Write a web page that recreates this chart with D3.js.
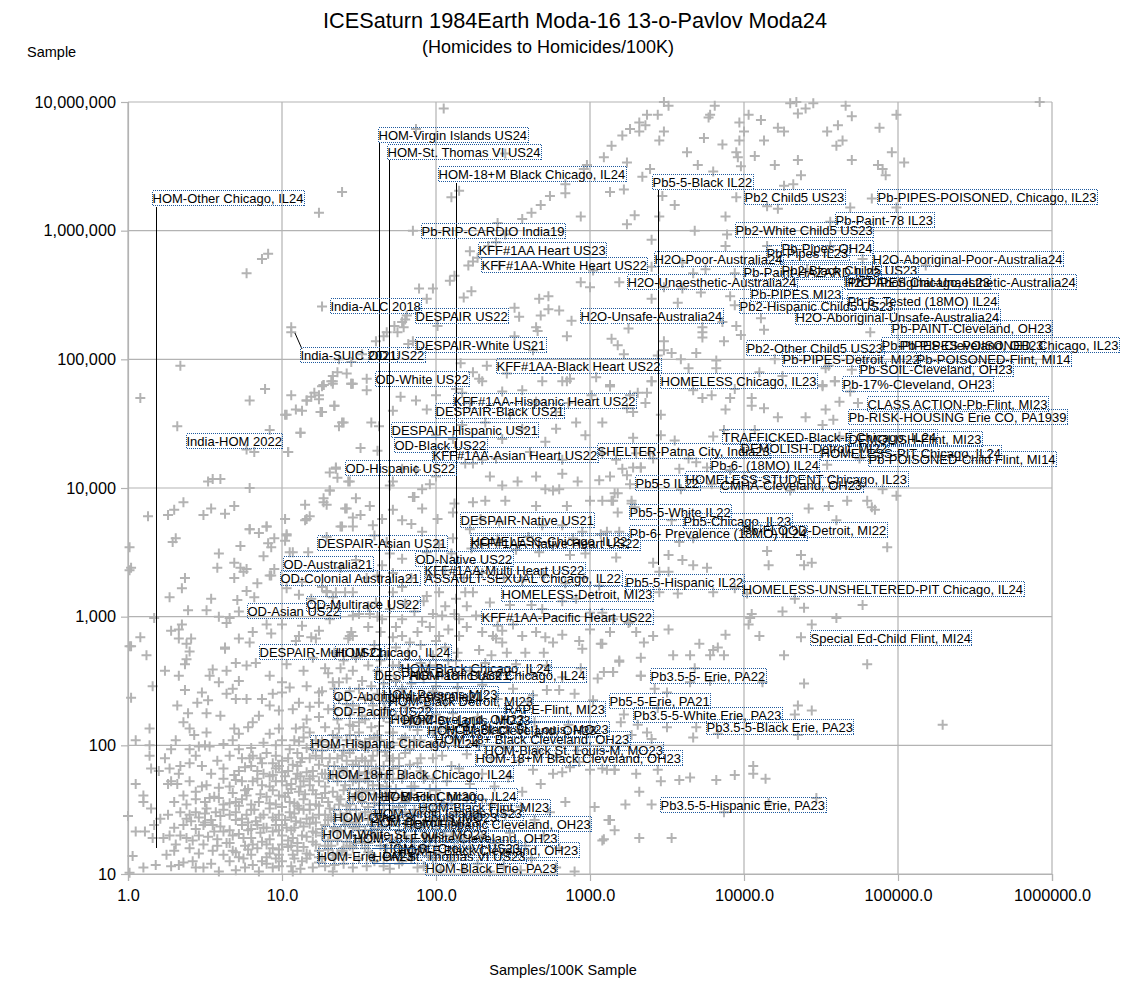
<!DOCTYPE html>
<html><head><meta charset="utf-8"><title>ICESaturn chart</title>
<script src="https://cdnjs.cloudflare.com/ajax/libs/d3/7.8.5/d3.min.js"></script>
<style>html,body{margin:0;padding:0;background:#fff}svg{display:block}text{font-family:"Liberation Sans",Arial,sans-serif;fill:#000}</style>
</head><body><svg id="c" width="1144" height="991"></svg>
<script>
const chartTitle="ICESaturn 1984Earth Moda-16 13-o-Pavlov Moda24";
const chartSubtitle="(Homicides to Homicides/100K)";
const yAxisTitle="Sample";
const xAxisTitle="Samples/100K Sample";
const xTicks=[1,10,100,1000,10000,100000,1000000];
const yTicks=[10,100,1000,10000,100000,1000000,10000000];
// All values below are powers of ten: [log10(Samples/100K), log10(Sample)]
const upperLeftValues=[[2.05,6.95],[1.39,6.30],[1.24,6.14],[.91,5.82],[.87,5.78],[.77,5.67],[1.26,5.41],[1.06,5.25],[1.06,5.21],[.34,4.95],[1.85,6.0],[2.10,6.26],[2.15,6.31],[1.87,6.79],[2.45,6.6],[2.84,6.36],[2.84,6.29],[2.74,6.27],[2.68,6.2],[2.62,6.14],[2.56,6.09],[2.94,6.11],[2.96,6.48],[2.98,6.51],[2.40,6.06],[2.45,5.97],[2.39,5.91],[2.34,5.88],[2.22,5.84],[2.27,5.79],[2.24,5.76],[2.21,5.73],[2.41,5.73],[3.02,5.69],[2.94,5.6],[3.0,5.56],[2.12,5.65],[2.09,5.61],[1.89,5.55],[1.98,5.55],[2.23,5.53],[2.18,5.48],[1.94,5.47],[2.67,5.47],[2.73,5.49],[2.73,5.39],[2.80,5.38],[2.68,5.34],[2.88,5.30],[2.54,5.33],[2.51,5.40],[2.65,5.25],[2.66,5.22],[2.85,5.18],[2.51,5.18],[2.63,5.07],[2.01,5.26],[1.80,5.31],[1.78,5.29],[1.81,5.34],[1.73,5.26],[1.79,5.25],[1.75,5.21],[1.68,5.21],[1.66,5.18],[1.61,5.14],[1.82,5.12],[1.85,5.14],[1.52,5.04],[1.45,4.98],[1.37,5.0],[2.16,4.97],[2.24,4.9],[2.33,4.95],[2.28,4.85],[2.46,4.89],[2.87,4.85],[2.85,4.83],[3.04,4.86],[1.36,4.90],[1.33,4.87],[1.42,4.89],[1.33,4.81],[1.27,4.80],[1.46,4.81],[1.55,4.85]];
const upperRightValues=[[3.48,7.0],[3.51,6.97],[3.81,6.97],[3.78,6.90],[3.77,6.88],[3.37,6.90],[3.44,6.90],[3.32,6.84],[3.26,6.79],[3.32,6.77],[3.36,6.82],[3.21,6.74],[3.14,6.66],[3.48,6.77],[3.45,6.70],[3.74,6.72],[3.86,6.67],[3.63,6.61],[3.95,6.61],[3.97,6.70],[4.0,6.77],[3.97,6.84],[4.03,6.90],[4.11,6.86],[4.22,6.80],[4.26,6.77],[4.13,6.70],[4.07,6.58],[3.96,6.57],[3.98,6.50],[3.70,6.51],[4.20,6.51],[4.35,6.55],[4.30,6.99],[4.34,7.0],[4.40,6.95],[4.45,6.99],[4.35,6.91],[4.66,6.97],[4.70,6.89],[4.61,6.82],[4.54,6.77],[4.88,6.80],[4.99,6.90],[4.64,6.70],[4.60,6.66],[4.96,6.61],[4.70,6.55],[4.87,6.51],[4.90,6.48],[4.92,6.43],[5.04,6.53],[5.92,7.0],[3.09,6.57],[3.24,6.53],[3.39,6.48],[3.34,6.42],[3.80,6.46],[4.37,6.43],[4.32,6.36],[4.26,6.35],[3.22,6.32],[3.13,6.30],[3.47,6.27],[3.55,6.20],[3.95,6.26],[4.15,6.19],[4.22,6.17],[4.69,6.18],[4.83,6.25],[4.99,6.18],[3.29,6.12],[3.24,6.05],[3.45,6.11],[3.88,6.11],[3.68,6.0],[3.89,5.97],[3.40,5.93],[3.88,5.88],[4.56,6.07],[3.19,5.6],[3.40,5.72],[3.75,5.70],[3.67,5.67],[3.94,5.67],[3.48,5.56],[3.60,5.55],[3.72,5.52],[3.40,5.47],[3.57,5.44],[3.91,5.49],[3.94,5.42],[4.11,5.32],[4.13,5.23],[3.73,5.25],[3.73,5.21],[3.73,5.17],[3.86,5.29],[3.95,5.26],[3.98,5.19],[3.87,5.14],[3.48,5.14],[3.25,5.24],[3.14,5.16],[3.18,5.11],[3.22,5.04],[3.48,5.07],[3.53,5.05],[3.59,5.0],[3.69,5.05],[3.44,5.03],[4.20,5.0],[3.82,4.99],[3.82,4.93],[3.64,4.93],[3.40,4.83],[3.13,4.80],[4.10,4.90],[4.25,4.87],[4.55,4.95],[4.70,4.92],[4.82,5.21],[4.77,5.62],[4.77,5.78],[5.18,5.73],[4.41,5.70],[4.15,5.88],[4.56,5.88],[4.53,4.93],[4.59,4.83],[4.51,4.80],[3.60,5.75]];
const midRightValues=[[3.13,4.79],[3.40,4.83],[3.31,4.74],[3.37,4.74],[3.36,4.66],[3.24,4.62],[3.28,4.59],[3.73,4.70],[3.79,4.72],[3.91,4.70],[3.94,4.77],[3.67,4.76],[4.05,4.70],[4.13,4.62],[4.05,4.64],[3.88,4.61],[4.22,4.55],[4.40,4.55],[4.53,4.61],[4.58,4.53],[4.62,4.67],[4.74,4.66],[4.69,4.75],[4.51,4.79],[4.59,4.83],[3.46,4.57],[3.46,4.41],[3.28,4.39],[3.55,4.37],[3.80,4.40],[3.87,4.45],[4.07,4.45],[4.51,4.49],[4.62,4.40],[3.39,4.27],[3.41,4.23],[3.17,4.22],[3.28,4.16],[3.33,4.16],[3.64,4.23],[3.69,4.20],[3.76,4.16],[3.58,4.15],[3.91,4.14],[4.54,4.18],[4.75,4.23],[3.24,4.10],[3.26,4.03],[3.59,3.99],[3.79,4.03],[4.30,3.98],[4.90,3.99],[4.99,3.94],[3.16,3.96],[3.18,3.96],[3.15,3.90],[3.27,3.90],[3.29,3.85],[3.18,3.81],[4.42,3.84],[4.55,3.86],[4.67,3.90],[4.80,3.90],[4.83,3.85],[4.85,3.83],[3.53,3.75],[4.15,3.51],[4.37,3.48],[4.93,3.54],[4.16,3.40],[4.39,3.40],[4.44,3.42],[4.60,3.75],[3.58,3.58],[3.67,3.61],[3.19,3.66],[3.11,3.66],[3.51,3.48],[3.60,3.44],[3.41,3.42],[3.67,3.40],[3.76,3.38],[3.45,3.35],[3.51,3.35],[3.45,3.19],[3.57,3.18],[3.80,3.19],[4.02,3.18],[4.33,3.14],[3.94,3.22],[4.25,3.04],[4.39,3.07],[4.77,3.09],[4.05,3.02],[4.04,2.99],[4.03,2.94],[4.60,2.99],[4.44,2.94],[3.25,2.95],[3.41,2.85],[3.51,2.90],[3.88,2.86],[4.10,2.85],[4.37,2.84],[3.71,2.79],[3.83,2.76],[3.80,2.74],[3.78,2.70],[3.54,2.70],[3.65,2.70],[3.87,2.70],[4.26,2.70],[4.80,2.63],[3.33,2.68],[3.19,2.65],[3.07,2.79],[3.09,2.57],[3.33,2.54],[3.68,2.60]];
const lowerRightValues=[[3.19,2.66],[3.15,2.57],[3.33,2.54],[3.65,2.49],[3.78,2.50],[4.39,2.48],[4.12,2.49],[3.42,2.44],[3.50,2.41],[4.35,2.31],[4.44,2.27],[4.33,2.24],[3.22,2.24],[3.44,2.29],[3.20,2.18],[3.31,2.16],[3.50,2.14],[3.37,2.10],[3.27,2.08],[3.40,2.05],[3.69,2.14],[3.67,2.06],[3.83,2.09],[4.35,2.08],[5.29,2.16],[4.06,1.84],[4.06,1.78],[3.94,1.77],[4.14,1.74],[3.82,1.73],[3.65,1.75],[3.58,1.73],[3.46,1.72],[3.44,1.81],[3.30,1.78],[3.16,1.81],[3.08,1.82],[3.32,1.64],[3.23,1.54],[3.40,1.54],[3.03,1.52],[3.12,1.42],[3.08,1.26],[3.32,1.28],[3.53,1.28],[3.87,1.48],[4.47,1.59],[4.16,1.55],[3.15,2.57],[3.08,2.79],[2.95,2.75],[2.72,2.43],[2.80,2.43],[2.63,2.39],[3.13,1.42],[3.09,1.27],[3.16,1.34],[2.84,1.56],[2.68,1.70],[2.76,1.78],[2.82,1.79],[2.93,1.87],[2.87,1.83],[2.63,1.81],[3.0,1.81],[3.11,1.81],[3.16,1.81]];
const midLeftValues=[[.08,4.70],[.32,4.48],[.79,4.68],[.89,4.77],[1.06,4.72],[1.03,4.57],[1.09,4.61],[1.13,4.60],[1.16,4.68],[1.19,4.71],[1.24,4.72],[1.26,4.79],[1.32,4.83],[1.24,4.69],[1.34,4.64],[1.25,4.59],[1.45,4.81],[1.12,4.43],[1.37,4.48],[1.40,4.51],[.92,4.45],[.77,4.30],[.82,4.28],[1.04,4.28],[1.35,4.16],[1.31,4.12],[1.36,4.08],[1.44,4.05],[.52,4.05],[.55,4.07],[.60,4.07],[.79,4.0],[1.31,3.98],[1.27,3.92],[1.29,3.87],[1.15,3.87],[1.41,3.84],[1.48,3.92],[.36,3.89],[.30,3.83],[.26,3.79],[.13,3.78],[.54,3.84],[.49,3.79],[.63,3.80],[.69,3.86],[1.18,3.78],[1.15,3.75],[1.46,3.77],[1.39,3.70],[1.02,3.76],[.79,3.68],[.90,3.70],[.85,3.65],[.95,3.61],[1.03,3.64],[1.02,3.59],[.91,3.57],[.93,3.54],[.73,3.55],[.31,3.61],[.29,3.58],[.01,3.54],[.88,3.47],[.59,3.49],[1.07,3.50],[1.17,3.50],[.69,3.42],[.58,3.38],[.77,3.37],[.73,3.38],[.75,3.35],[.95,3.37],[.93,3.32],[.02,3.38],[.01,3.36],[.37,3.30],[.69,3.30],[.35,3.22],[.84,3.26],[.77,3.20],[1.03,3.22],[1.11,3.17],[.27,3.15],[.54,3.14],[.71,3.13],[.82,3.15],[1.29,3.20],[.39,3.05],[.51,3.05],[.72,3.04],[.17,2.99],[.59,3.0],[.66,2.99],[.64,2.95],[.35,2.94],[.33,2.90],[.28,2.89],[.90,2.94],[1.0,2.94],[.81,2.88],[.93,2.87],[.41,2.83],[.33,2.83],[.08,2.84],[.38,2.79],[.72,2.83],[.79,2.80],[.02,2.77],[1.09,2.81],[1.19,2.84],[1.13,2.93],[1.24,2.89],[1.33,3.15],[1.41,3.19],[1.44,2.85],[.63,2.76]];
const midCentreValues=[[1.02,4.57],[1.16,4.68],[1.21,4.74],[1.27,4.80],[1.33,4.83],[1.45,4.81],[1.55,4.76],[1.34,4.64],[1.26,4.59],[1.39,4.51],[1.58,4.51],[1.77,4.71],[1.87,4.68],[1.94,4.61],[1.72,4.60],[1.63,4.48],[1.12,4.43],[1.04,4.28],[1.51,4.31],[1.62,4.29],[1.35,4.15],[1.43,4.05],[1.70,4.02],[1.31,3.98],[1.96,4.03],[1.91,3.99],[1.85,3.93],[2.0,4.09],[2.19,4.19],[2.24,4.19],[2.35,4.09],[2.43,4.02],[2.53,4.05],[2.65,4.09],[2.71,3.99],[2.76,3.98],[2.80,3.99],[2.92,4.05],[3.06,4.06],[3.13,4.09],[3.21,4.15],[3.33,4.16],[3.0,3.90],[3.08,3.90],[3.14,3.90],[3.27,3.88],[2.45,3.90],[2.65,3.86],[2.85,3.86],[2.32,3.90],[2.24,3.89],[2.12,3.88],[1.86,3.93],[1.91,3.84],[2.01,3.76],[1.78,3.75],[1.72,3.83],[1.57,3.86],[1.42,3.84],[1.27,3.89],[1.16,3.76],[1.51,3.79],[1.65,3.76],[1.59,3.71],[1.46,3.70],[1.38,3.70],[1.29,3.62],[1.84,3.72],[1.91,3.66],[1.60,3.63],[1.70,3.49],[1.78,3.45],[1.68,3.58],[1.65,3.40],[2.11,3.61],[2.69,3.71],[2.82,3.71],[2.95,3.66],[3.07,3.64],[2.89,3.61],[2.22,3.68],[2.11,3.81],[2.29,3.76],[2.41,3.74],[2.23,3.53],[2.10,3.49],[2.67,3.50],[2.87,3.48],[2.97,3.49],[3.17,3.46],[1.48,3.44],[1.38,3.38],[.92,3.32],[1.05,3.50],[.79,3.68],[.90,3.70],[1.03,3.63],[1.35,3.19],[1.46,3.19],[1.26,3.23],[1.13,3.27],[1.19,3.14],[1.29,3.19],[1.61,3.11],[1.72,3.19],[1.78,3.23],[1.94,3.16],[2.02,3.19],[2.13,3.14],[2.19,3.19],[2.24,3.19],[2.35,3.11],[2.48,3.09],[2.62,3.09],[2.69,3.06],[2.82,3.12],[2.91,3.14],[3.0,3.03],[3.08,3.03],[3.26,2.96],[3.15,2.98],[3.30,2.88],[3.35,2.80],[1.31,2.98],[1.46,3.01],[1.57,3.02],[1.65,2.98],[1.78,2.98],[1.91,2.96],[2.04,3.01],[2.15,2.98],[2.26,3.01],[2.43,2.89],[2.56,2.85],[2.65,2.88],[2.82,2.86],[3.0,2.90],[3.13,2.88],[2.37,2.85],[2.39,2.83],[2.40,2.93],[2.15,2.85],[2.02,2.85],[1.78,2.85],[1.46,2.85],[1.43,2.83],[1.45,2.88],[1.22,2.83],[1.11,2.85],[1.83,2.80],[2.0,2.81],[2.43,2.80],[2.76,2.80],[2.93,2.81],[2.71,2.84],[2.82,4.83],[3.01,4.72],[3.13,4.79],[3.26,4.72],[2.86,4.66],[2.65,4.67],[2.78,4.59],[2.48,4.57],[2.32,4.51],[2.56,4.46],[2.78,4.46],[2.91,4.51],[3.08,4.51],[2.43,4.38],[2.71,4.36],[2.97,4.41],[2.0,4.41],[2.11,4.38],[2.17,4.49],[2.17,4.74],[2.22,4.66],[2.0,4.72],[2.13,4.77],[2.43,4.75],[2.56,4.76],[2.30,4.83],[2.69,4.83],[2.61,4.28],[2.39,4.23],[2.30,4.22],[2.82,4.22],[3.08,4.27],[3.30,4.27],[2.82,4.11],[1.87,4.14],[1.78,4.15],[1.72,4.05],[1.5,3.02],[1.56,3.08],[1.62,3.0],[1.7,3.06],[1.74,2.92],[1.8,3.1],[1.86,3.04],[1.92,3.12],[1.98,3.02],[2.06,3.08],[2.12,3.02],[2.2,3.08],[1.52,2.72],[1.6,2.78],[1.68,2.7],[1.74,2.76],[1.82,2.72],[1.9,2.78],[1.98,2.7],[2.06,2.76],[2.14,2.72],[2.28,2.74],[2.36,2.7],[2.46,2.72],[2.58,2.72],[2.7,2.72],[1.56,2.92],[1.64,2.88],[1.72,2.84],[1.88,2.88],[1.96,2.92],[2.08,2.9],[2.2,2.92],[2.3,2.88],[2.5,2.94],[1.4,2.66],[1.34,2.72],[1.46,2.58],[1.28,2.6],[1.2,2.68],[1.14,2.58],[1.55,3.3],[1.62,3.32],[1.72,3.34],[1.84,3.3],[1.96,3.32],[2.06,3.36],[2.18,3.3],[2.3,3.34],[2.44,3.3],[2.56,3.28],[2.7,3.32],[2.84,3.26],[2.96,3.3],[3.06,3.24],[1.94,3.5],[2.02,3.56],[2.3,3.56],[2.4,3.6],[2.52,3.52],[2.6,3.62],[2.76,3.55]];
const lowerLeftValues=[[.01,2.77],[.12,2.70],[.24,2.58],[.16,2.46],[.02,2.37],[.14,2.13],[.05,2.04],[.14,2.0],[.14,1.92],[.15,1.82],[.05,1.70],[.10,1.61],[.10,1.56],[0,1.45],[.05,1.33],[.11,1.33],[.15,1.51],[.17,1.38],[.40,2.73],[.38,2.67],[.37,2.63],[.63,2.75],[.55,2.59],[.53,2.54],[.64,2.58],[.70,2.64],[.77,2.62],[.83,2.64],[.92,2.54],[1.03,2.63],[1.0,2.49],[.72,2.50],[.68,2.44],[.64,2.40],[.59,2.49],[.48,2.41],[.52,2.35],[.45,2.33],[.37,2.43],[.33,2.54],[.32,2.31],[.39,2.25],[.51,2.25],[.60,2.23],[.70,2.36],[.77,2.36],[.87,2.36],[.94,2.40],[1.0,2.41],[1.05,2.45],[1.16,2.46],[1.24,2.41],[1.33,2.49],[1.07,2.28],[1.11,2.33],[1.24,2.33],[.98,2.27],[.92,2.31],[.85,2.23],[.81,2.18],[.69,2.13],[.72,2.09],[.78,2.14],[.92,2.09],[.98,2.13],[1.09,2.13],[1.18,2.10],[1.11,2.03],[1.05,1.97],[.96,1.92],[.87,1.86],[.81,1.92],[.76,1.83],[.69,1.77],[.70,1.73],[.59,1.67],[.51,1.69],[.53,1.59],[.44,1.64],[.40,1.86],[.48,1.84],[.33,1.78],[.27,1.82],[.28,1.72],[.32,1.70],[.36,1.61],[.40,1.97],[.46,1.99],[.53,1.99],[.62,2.01],[.28,1.97],[.43,2.08],[.31,2.04],[.40,2.13],[.51,2.10],[.36,2.18],[.72,1.97],[.79,1.90]];
const denseBandValues=[[.40,1.46],[.44,1.48],[.41,1.41],[.38,1.43],[.49,1.38],[.46,1.30],[.51,1.51],[.57,1.48],[.59,1.59],[.62,1.54],[.66,1.46],[.70,1.56],[.77,1.61],[.81,1.72],[.87,1.69],[.94,1.77],[1.0,1.79],[1.07,1.85],[1.13,1.90],[1.20,1.97],[1.26,2.03],[1.33,2.08],[1.37,2.13],[1.46,2.15],[1.50,2.18],[.96,1.72],[1.03,1.69],[1.09,1.74],[1.16,1.79],[1.24,1.85],[1.31,1.90],[1.39,1.92],[1.46,1.97],[1.52,2.0],[1.57,2.05],[.98,1.61],[1.05,1.56],[1.11,1.64],[1.18,1.69],[1.24,1.72],[1.33,1.77],[1.39,1.82],[1.46,1.85],[1.52,1.90],[1.59,1.92],[.85,1.56],[.92,1.51],[.98,1.46],[1.05,1.48],[1.11,1.51],[1.18,1.54],[1.26,1.59],[1.33,1.64],[1.41,1.69],[1.48,1.74],[1.54,1.79],[1.61,1.82],[.77,1.46],[.83,1.41],[.90,1.36],[.96,1.38],[1.03,1.36],[1.09,1.41],[1.16,1.43],[1.24,1.46],[1.31,1.51],[1.37,1.54],[1.46,1.59],[1.52,1.64],[1.59,1.69],[1.67,1.74],[.55,1.38],[.62,1.33],[.68,1.30],[.75,1.28],[.81,1.23],[.87,1.25],[.94,1.20],[1.0,1.23],[1.07,1.28],[1.13,1.30],[1.20,1.25],[1.26,1.30],[1.33,1.33],[1.41,1.38],[1.48,1.43],[1.54,1.48],[1.63,1.54],[1.72,1.59],[.49,1.23],[.55,1.18],[.62,1.15],[.68,1.18],[.75,1.12],[.81,1.07],[.87,1.10],[.94,1.05],[1.0,1.10],[1.07,1.15],[1.13,1.10],[1.20,1.05],[1.26,1.12],[1.33,1.15],[1.39,1.18],[1.46,1.20],[1.52,1.25],[1.59,1.30],[1.65,1.36],[1.74,1.41],[1.80,1.48],[.38,1.28],[.31,1.23],[.27,1.30],[.21,1.43],[.23,1.28],[.25,1.15],[.03,1.14],[.10,1.05],[.18,1.07],[.33,1.07],[.42,1.10],[.49,1.05],[.59,1.02],[.70,1.03],[.85,1.02],[1.07,1.02],[1.33,1.02],[.01,1.01],[1.24,1.18],[1.67,1.61],[1.78,1.61],[1.63,1.69],[1.72,1.82],[1.78,1.74],[1.83,1.85],[1.67,1.95],[1.78,2.05],[1.83,1.97],[1.83,2.15],[1.72,2.10],[1.74,2.23],[1.63,2.15],[1.67,2.28],[1.59,2.31],[1.52,2.23],[1.37,2.36],[1.46,2.31],[1.37,2.49],[1.28,1.22],[1.36,1.26],[1.44,1.30],[1.50,1.34],[1.58,1.38],[1.66,1.44],[1.72,1.50],[1.30,1.42],[1.38,1.46],[1.44,1.50],[1.52,1.56],[1.60,1.62],[1.68,1.68],[1.36,1.60],[1.44,1.66],[1.50,1.72],[1.58,1.78],[1.66,1.84],[1.72,1.90],[1.30,1.74],[1.40,1.80],[1.48,1.88],[1.56,1.98],[1.64,2.04],[1.72,2.02],[1.26,1.90],[1.34,1.98],[1.42,2.04],[1.50,2.10],[1.58,2.14],[1.66,2.22],[1.44,2.24],[1.54,2.36],[1.62,2.40],[1.70,2.34],[1.78,2.44],[1.80,2.30],[1.44,2.42],[1.52,2.50],[1.62,2.58],[1.70,2.54],[1.76,2.62],[1.24,2.22],[1.30,2.28],[1.16,2.20],[1.12,1.76],[1.06,1.70],[.98,1.84],[1.15,1.62],[1.22,1.54],[1.28,1.06],[1.40,1.08],[1.55,1.06],[1.70,1.04],[1.78,1.10],[1.16,1.12],[1.06,1.06],[.96,1.12]];
const blobValues=[[.28,1.06],[.36,1.09],[.44,1.05],[.54,1.08],[.66,1.10],[.76,1.05],[.9,1.08],[.98,1.06],[1.12,1.04],[1.24,1.09],[1.34,1.07],[1.46,1.05],[1.6,1.10],[1.66,1.06],[1.76,1.08],[1.84,1.12],[1.92,1.06],[.30,1.18],[.40,1.20],[.46,1.16],[.58,1.22],[.70,1.17],[.78,1.19],[.92,1.16],[1.04,1.21],[1.10,1.18],[1.18,1.15],[1.3,1.19],[1.36,1.16],[1.44,1.22],[1.56,1.17],[1.68,1.20],[1.78,1.16],[1.9,1.19],[2.02,1.16],[2.12,1.20],[.16,1.28],[.34,1.30],[.42,1.26],[.52,1.29],[.58,1.27],[.64,1.24],[.72,1.31],[.8,1.28],[.86,1.32],[.92,1.27],[1.0,1.30],[1.04,1.26],[1.1,1.24],[1.16,1.29],[1.22,1.32],[1.3,1.26],[1.36,1.33],[1.42,1.25],[1.5,1.28],[1.56,1.24],[1.62,1.30],[1.7,1.27],[1.8,1.30],[1.96,1.26],[2.1,1.30],[2.18,1.26],[.30,1.36],[.36,1.38],[.44,1.35],[.5,1.40],[.56,1.33],[.6,1.37],[.66,1.34],[.74,1.38],[.8,1.35],[.84,1.38],[.94,1.33],[1.0,1.38],[1.06,1.34],[1.14,1.37],[1.2,1.33],[1.28,1.38],[1.34,1.36],[1.44,1.40],[1.5,1.37],[1.6,1.35],[1.7,1.38],[1.84,1.36],[2.0,1.35],[2.16,1.38],[.26,1.46],[.34,1.48],[.46,1.44],[.5,1.47],[.54,1.42],[.6,1.45],[.7,1.48],[.74,1.43],[.8,1.50],[.88,1.46],[.94,1.44],[1.02,1.42],[1.08,1.47],[1.14,1.50],[1.2,1.44],[1.28,1.46],[1.34,1.42],[1.42,1.47],[1.5,1.44],[1.58,1.46],[1.66,1.50],[1.76,1.44],[1.9,1.47],[2.08,1.43],[2.24,1.47],[.3,1.56],[.38,1.54],[.44,1.58],[.5,1.56],[.56,1.60],[.66,1.55],[.74,1.58],[.8,1.54],[.9,1.60],[.96,1.54],[1.02,1.60],[1.08,1.55],[1.14,1.58],[1.22,1.62],[1.3,1.56],[1.38,1.58],[1.44,1.54],[1.5,1.60],[1.6,1.55],[1.7,1.62],[1.8,1.56],[1.95,1.60],[2.1,1.54],[2.3,1.58],[.26,1.70],[.4,1.72],[.48,1.68],[.62,1.74],[.66,1.68],[.74,1.72],[.78,1.66],[.84,1.74],[.92,1.68],[1.0,1.72],[1.06,1.66],[1.14,1.72],[1.2,1.76],[1.28,1.68],[1.36,1.72],[1.44,1.76],[1.5,1.66],[1.56,1.72],[1.64,1.66],[1.72,1.74],[1.84,1.68],[1.98,1.74],[.2,1.80],[.34,1.84],[.54,1.78],[.62,1.82],[.72,1.80],[.8,1.84],[.88,1.78],[.96,1.82],[1.04,1.80],[1.1,1.84],[1.2,1.80],[1.26,1.78],[1.34,1.84],[1.42,1.80],[1.5,1.78],[1.56,1.84],[1.64,1.78],[1.76,1.84],[1.9,1.80],[2.1,1.84],[.24,1.90],[.44,1.92],[.58,1.88],[.66,1.92],[.74,1.90],[.9,1.94],[1.0,1.88],[1.1,1.94],[1.18,1.90],[1.26,1.96],[1.36,1.90],[1.44,1.94],[1.54,1.88],[1.62,1.96],[1.7,1.88],[1.8,1.94],[.5,2.0],[.68,2.04],[.8,1.98],[.88,2.02],[.96,2.0],[1.08,2.04],[1.16,1.98],[1.22,2.04],[1.3,2.0],[1.4,1.96],[1.48,2.04],[1.54,1.98],[1.6,2.06],[1.7,1.98],[1.86,2.04]];
const blobFillValues=[[.72,1.13],[.8,1.15],[.9,1.13],[.98,1.15],[1.08,1.12],[1.16,1.16],[1.24,1.13],[1.34,1.12],[1.42,1.15],[1.5,1.12],[1.58,1.15],[1.68,1.13],[1.8,1.2],[1.86,1.16],[1.98,1.12],[.66,1.24],[.76,1.22],[.84,1.2],[.9,1.23],[.98,1.19],[1.06,1.22],[1.14,1.21],[1.22,1.23],[1.32,1.22],[1.4,1.2],[1.48,1.24],[1.54,1.2],[1.64,1.22],[1.74,1.24],[1.84,1.27],[1.92,1.22],[.78,1.34],[.88,1.36],[.98,1.34],[1.08,1.36],[1.18,1.39],[1.26,1.35],[1.38,1.34],[1.46,1.36],[1.54,1.34],[1.64,1.4],[1.76,1.34],[1.9,1.36],[2.1,1.38],[.7,1.42],[.78,1.40],[.86,1.44],[.96,1.42],[1.06,1.44],[1.12,1.40],[1.22,1.40],[1.32,1.44],[1.4,1.42],[1.48,1.40],[1.56,1.42],[1.62,1.46],[1.72,1.44],[1.82,1.42],[1.98,1.48],[.62,1.50],[.72,1.53],[.82,1.5],[.92,1.55],[1.0,1.52],[1.1,1.53],[1.18,1.5],[1.24,1.53],[1.34,1.5],[1.42,1.53],[1.48,1.5],[1.56,1.52],[1.66,1.54],[1.76,1.52],[1.86,1.5],[2.0,1.53],[.68,1.63],[.76,1.65],[.86,1.62],[.94,1.65],[1.04,1.63],[1.12,1.68],[1.2,1.65],[1.28,1.63],[1.4,1.65],[1.48,1.62],[1.56,1.65],[1.64,1.6],[1.74,1.66],[1.84,1.62],[1.96,1.66],[.84,1.8],[.92,1.76],[1.02,1.76],[1.1,1.78],[1.18,1.74],[1.28,1.78],[1.36,1.76],[1.46,1.72],[1.54,1.74],[1.62,1.76],[1.7,1.78],[1.8,1.78],[1.92,1.74],[.86,1.9],[.94,1.86],[1.04,1.9],[1.12,1.87],[1.22,1.92],[1.3,1.84],[1.42,1.88],[1.5,1.84],[1.58,1.88],[1.68,1.92],[1.76,1.9],[1.88,1.86],[1.98,1.9],[1.0,2.04],[1.14,2.06],[1.26,2.0],[1.36,2.06],[1.44,2.08],[1.54,2.02],[1.62,2.08],[1.7,2.1],[1.8,2.06],[1.9,2.04],[1.98,2.1],[1.14,2.14],[1.28,2.14],[1.36,2.2],[1.44,2.16],[1.54,2.2],[1.6,2.24],[1.7,2.18],[1.8,2.2],[1.9,2.18],[2.0,2.24],[1.18,2.3],[1.34,2.28],[1.42,2.32],[1.5,2.28],[1.58,2.36],[1.66,2.34],[1.74,2.38],[1.84,2.36],[1.94,2.3],[2.02,2.38],[1.26,2.42],[1.34,2.44],[1.42,2.52],[1.5,2.44],[1.58,2.46],[1.66,2.48],[1.74,2.5],[1.84,2.48],[1.92,2.52],[2.0,2.46],[1.3,2.56],[1.38,2.6],[1.48,2.68],[1.56,2.62],[1.64,2.66],[1.72,2.62],[1.82,2.6],[1.9,2.64],[2.0,2.62],[2.08,2.66]];
const lowerCentreValues=[[1.88,1.05],[1.95,1.14],[2.03,1.03],[2.10,1.10],[2.18,1.03],[2.27,1.08],[2.35,1.02],[2.44,1.06],[2.55,1.03],[2.62,1.12],[2.78,1.05],[2.9,1.02],[1.86,1.25],[1.93,1.30],[2.0,1.22],[2.06,1.33],[2.14,1.27],[2.22,1.20],[2.30,1.30],[2.38,1.24],[2.48,1.32],[2.58,1.22],[2.70,1.30],[2.80,1.20],[1.85,1.45],[1.92,1.52],[1.99,1.43],[2.05,1.55],[2.13,1.47],[2.20,1.58],[2.28,1.45],[2.36,1.54],[2.45,1.46],[2.55,1.52],[2.64,1.42],[2.74,1.48],[1.86,1.68],[1.93,1.76],[2.0,1.65],[2.07,1.72],[2.15,1.82],[2.22,1.70],[2.3,1.78],[2.38,1.68],[2.47,1.75],[2.56,1.64],[1.90,1.90],[1.97,2.0],[2.04,1.92],[2.12,2.05],[2.2,1.93],[2.28,2.0],[2.36,1.90],[2.45,1.98],[2.54,1.88],[2.66,1.95],[2.78,1.92],[2.92,1.96],[1.88,2.12],[1.95,2.2],[2.03,2.13],[2.11,2.25],[2.19,2.15],[2.27,2.22],[2.36,2.12],[2.45,2.2],[2.54,2.12],[2.64,2.18],[2.75,2.1],[2.86,2.16],[3.0,2.12],[1.90,2.35],[1.98,2.42],[2.06,2.33],[2.14,2.45],[2.22,2.38],[2.3,2.47],[2.4,2.36],[2.5,2.44],[2.6,2.34],[2.9,2.4],[3.02,2.35],[1.88,2.55],[1.96,2.62],[2.04,2.55],[2.13,2.66],[2.22,2.58],[2.32,2.64],[2.42,2.56],[2.52,2.63],[2.62,2.55],[2.72,2.62],[2.82,2.53],[2.94,2.6],[3.05,2.52]];
// [label, log10 of x at the label's left edge, log10 of y at the label's middle]
const labelRows=[["HOM-Virgin Islands US24",1.623,6.743],["HOM-St. Thomas VI US24",1.682,6.611],["HOM-18+M Black Chicago, IL24",2.013,6.440],["HOM-Other Chicago, IL24",.156,6.254],["Pb5-5-Black IL22",3.403,6.378],["Pb2 Child5 US23",4.0,6.258],["Pb-PIPES-POISONED, Chicago, IL23",4.864,6.258],["Pb-Paint-78 IL23",4.591,6.083],["Pb-RIP-CARDIO India19",1.903,5.997],["Pb2-White Child5 US23",3.942,6.005],["Pb-Pipes-OH24",4.240,5.869],["Pb-Pipes IL23",4.143,5.826],["KFF#1AA Heart US23",2.273,5.850],["KFF#1AA-White Heart US22",2.292,5.733],["H2O-Poor-Australia24",3.416,5.780],["H2O-Aboriginal-Poor-Australia24",4.831,5.780],["Pb-Paint-HAZARD IL23",3.994,5.679],["Pb2-Black Child5 US23",4.240,5.694],["H2O-Unaesthetic-Australia24",3.240,5.601],["H2O-Aboriginal-Unaesthetic-Australia24",4.649,5.601],["Pb-PIPES Chicago, IL23",4.669,5.601],["Pb-PIPES MI23",4.039,5.508],["Pb-6- Tested (18MO) IL24",4.669,5.453],["Pb2-Hispanic Child5 US23",3.968,5.415],["H2O-Unsafe-Australia24",2.935,5.337],["H2O-Aboriginal-Unsafe-Australia24",4.331,5.329],["Pb-PAINT-Cleveland, OH23",4.955,5.243],["India-ALC 2018",1.312,5.415],["DESPAIR US22",1.864,5.337],["India-SUIC 2021",1.117,5.034],["OD US22",1.558,5.034],["DESPAIR-White US21",1.864,5.111],["Pb2-Other Child5 US23",4.013,5.088],["Pb-PIPES-Cleveland, OH23",4.890,5.111],["Pb-PIPES-POISONED, Chicago, IL23",5.006,5.111],["Pb-PIPES-Detroit, MI22",4.247,5.003],["Pb-POISONED-Flint, MI14",5.117,5.003],["Pb-SOIL-Cleveland, OH23",4.747,4.925],["HOMELESS Chicago, IL23",3.455,4.832],["Pb-17%-Cleveland, OH23",4.636,4.808],["OD-White US22",1.604,4.847],["KFF#1AA-Black Heart US22",2.390,4.948],["KFF#1AA-Hispanic Heart US22",2.110,4.676],["DESPAIR-Black US21",1.994,4.598],["CLASS ACTION-Pb-Flint, MI23",4.799,4.653],["Pb-RISK-HOUSING Erie CO, PA1939",4.675,4.552],["India-HOM 2022",.377,4.365],["DESPAIR-Hispanic US21",1.708,4.451],["OD-Black US22",1.727,4.334],["TRAFFICKED-Black-F Chicago, IL24",3.857,4.396],["DEMOLISH-Flint, MI23",4.675,4.381],["DEMOLISH-Detroit, MI22",3.974,4.311],["SHELTER-Patna City, India23",3.045,4.288],["KFF#1AA-Asian Heart US22",1.974,4.256],["HOMELESS-PIT Chicago, IL24",4.494,4.272],["Pb-POISONED-Child Flint, MI14",4.805,4.225],["Pb-6- (18MO) IL24",3.779,4.179],["OD-Hispanic US22",1.409,4.155],["HOMELESS-STUDENT Chicago, IL23",3.617,4.070],["CMHA-Cleveland, OH23",3.844,4.023],["Pb5-5 IL22",3.292,4.039],["Pb5-5-White IL22",3.253,3.813],["Pb5-Chicago, IL23",3.604,3.744],["Pb-FLOOD-Detroit, MI22",3.987,3.674],["Pb-6- Prevalence (18MO) IL24",3.253,3.650],["DESPAIR-Native US21",2.156,3.751],["HOMELESS-Chicago, IL22",2.221,3.588],["KFF#1AA-Native Heart US22",2.221,3.573],["DESPAIR-Asian US21",1.227,3.573],["OD-Native US22",1.864,3.448],["OD-Australia21",1.006,3.409],["KFF#1AA-Multi Heart US22",1.922,3.363],["OD-Colonial Australia21",.987,3.301],["ASSAULT-SEXUAL Chicago, IL22",1.922,3.301],["Pb5-5-Hispanic IL22",3.227,3.269],["HOMELESS-Detroit, MI23",2.422,3.176],["HOMELESS-UNSHELTERED-PIT Chicago, IL24",3.987,3.215],["OD-Multirace US22",1.156,3.098],["OD-Asian US22",.773,3.044],["KFF#1AA-Pacific Heart US22",2.292,2.997],["Special Ed-Child Flint, MI24",4.429,2.834],["DESPAIR-Multi US21",.851,2.725],["HOM-Chicago, IL24",1.344,2.725],["HOM-Black Chicago, IL24",1.766,2.601],["DESPAIR-Pacific US21",1.597,2.547],["HOM-18+ Black Chicago, IL24",1.825,2.547],["OD-Aboriginal Australia21",1.331,2.383],["HOM-Persons MI23",1.649,2.399],["HOM-Black Detroit, MI23",1.688,2.345],["RAPE-Flint, MI23",2.442,2.282],["OD-Pacific US22",1.331,2.267],["Pb5-5-Erie, PA21",3.123,2.345],["Pb3.5-5- Erie, PA22",3.390,2.535],["Pb3.5-5-White Erie, PA23",3.279,2.236],["Pb3.5-5-Black Erie, PA23",3.753,2.142],["Pb3.5-5-Hispanic Erie, PA23",3.455,1.536],["HOM-Cleveland, OH23",1.701,2.205],["HOM-St. Louis, MO23",1.779,2.197],["HOM-Black Cleveland, OH23",1.942,2.119],["HOM-Black St. Louis, MO23",2.058,2.127],["HOM-Hispanic Chicago, IL24",1.182,2.018],["HOM-18+ Black Cleveland, OH23",1.987,2.049],["HOM-Black St. Louis-M, MO23",2.312,1.964],["HOM-18+M Black Cleveland, OH23",2.253,1.902],["HOM-18+F Black Chicago, IL24",1.299,1.777],["HOM-17-Black Chicago, IL24",1.422,1.606],["HOM-Flint, MI20",1.636,1.606],["HOM-Black Flint, MI23",1.883,1.521],["HOM-Virgin Islands US23",1.591,1.474],["HOM-Other St. Louis, MO23",1.331,1.443],["HOM-Detroit, MI23",1.571,1.404],["HOM-Hispanic Cleveland, OH23",1.786,1.389],["HOM-White St. Louis, MO23",1.260,1.311],["HOM-18+F White Cleveland, OH23",1.461,1.280],["HOM-St. Croix VI US23",1.656,1.202],["HOM-F Black Cleveland, OH23",1.747,1.187],["HOM-Erie, PA23",1.227,1.140],["HOM-St. Thomas VI US23",1.584,1.140],["HOM-Black Erie, PA23",1.929,1.047]];
// leader lines: [log10 x1, log10 y1, log10 x2, log10 y2]
const leaderRows=[[.182,6.184,.182,1.202],[1.636,6.681,1.636,1.459],[1.695,6.549,1.695,1.342],[2.134,6.370,2.134,2.663],[3.442,6.316,3.442,3.401],[1.084,5.205,1.130,5.080]];

const x=d3.scaleLog().domain([1,1e6]).range([128,1052]);
const y=d3.scaleLog().domain([10,1e7]).range([874,102]);
const svg=d3.select("#c");
const GRID="#b3b3b3";
const g=svg.append("g");
g.selectAll("line.gx").data(xTicks).join("line").attr("x1",d=>x(d)).attr("x2",d=>x(d)).attr("y1",102).attr("y2",874).attr("stroke",GRID).attr("stroke-width",1.2);
g.selectAll("line.gy").data(yTicks).join("line").attr("class","gy").attr("x1",128).attr("x2",1052).attr("y1",d=>y(d)).attr("y2",d=>y(d)).attr("stroke",GRID).attr("stroke-width",1.2);
const fmtX=d3.format(".1f"),fmtY=d3.format(",");
const xa=d3.axisBottom(x).tickValues(xTicks).tickFormat(fmtX).tickSize(7).tickPadding(8);
const ya=d3.axisLeft(y).tickValues(yTicks).tickFormat(fmtY).tickSize(7).tickPadding(5);
[svg.append("g").attr("transform","translate(0,874)").call(xa),svg.append("g").attr("transform","translate(128,0)").call(ya)].forEach(a=>{
  a.selectAll(".domain").attr("stroke",GRID).attr("stroke-width",1.2);
  a.selectAll(".tick line").attr("stroke",GRID).attr("stroke-width",1.2);
  a.selectAll("text").style("font-family",'"Liberation Sans",Arial,sans-serif').style("font-size","16.3px").attr("fill","#000");
});
const allPoints=[].concat(upperLeftValues,upperRightValues,midRightValues,lowerRightValues,midLeftValues,midCentreValues,lowerLeftValues,denseBandValues,blobValues,blobFillValues,lowerCentreValues);
const arm=5;
svg.append("g").selectAll("path").data(allPoints).join("path")
  .attr("d",`M${-arm},0H${arm}M0,${-arm}V${arm}`)
  .attr("transform",d=>`translate(${x(10**d[0])},${y(10**d[1])})`)
  .attr("fill","none").attr("stroke","#b3b3b3").attr("stroke-width",2);
svg.append("g").selectAll("line").data(leaderRows).join("line")
  .attr("x1",d=>x(10**d[0])).attr("y1",d=>y(10**d[1])).attr("x2",d=>x(10**d[2])).attr("y2",d=>y(10**d[3]))
  .attr("stroke","#000").attr("stroke-width",1).attr("shape-rendering",d=>d[0]===d[2]?"crispEdges":null);
const lab=svg.append("g").selectAll("g").data(labelRows).join("g")
  .attr("transform",d=>`translate(${Math.round(x(10**d[1]))+.5},${Math.round(y(10**d[2]))})`);
lab.append("text").text(d=>d[0]).attr("dominant-baseline","central").style("font-size","13px");
lab.insert("rect","text").each(function(){
  const t=this.parentNode.querySelector("text").getComputedTextLength();
  d3.select(this).attr("x",0).attr("y",-7.5).attr("width",Math.round(t)+1).attr("height",15);
}).attr("fill","none").attr("stroke","#1f5a9e").attr("stroke-width",1).attr("stroke-dasharray","1 1").attr("shape-rendering","crispEdges");
svg.append("text").attr("x",575).attr("y",20).attr("text-anchor","middle").attr("dominant-baseline","central").style("font-size","21.7px").text(chartTitle);
svg.append("text").attr("x",548).attr("y",47).attr("text-anchor","middle").attr("dominant-baseline","central").style("font-size","18px").text(chartSubtitle);
svg.append("text").attr("x",27).attr("y",52).attr("dominant-baseline","central").style("font-size","14.5px").text(yAxisTitle);
svg.append("text").attr("x",563).attr("y",970).attr("text-anchor","middle").attr("dominant-baseline","central").style("font-size","14.5px").text(xAxisTitle);
</script></body></html>
